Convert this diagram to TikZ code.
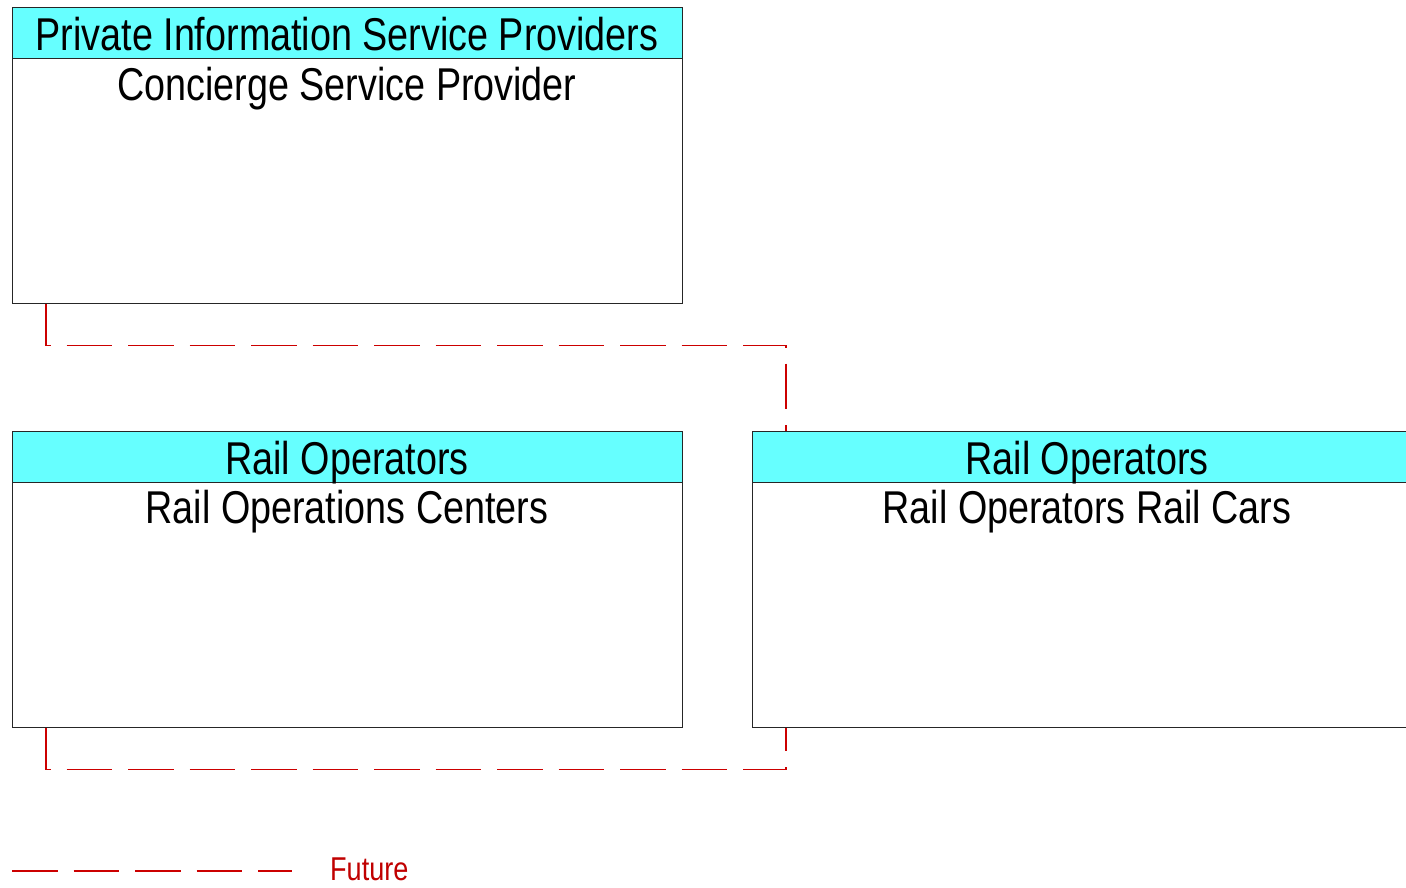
\documentclass[tikz,border=0pt]{standalone}
\usepackage{fontspec}
\setmainfont{Liberation Sans}[FakeStretch=0.82]
\begin{document}
\begin{tikzpicture}[x=1pt,y=-1pt,
  box/.style={draw=black!85,line width=1.2pt,fill=white,minimum width=670pt,minimum height=296pt,anchor=north west,inner sep=0pt},
  hdr/.style={draw=black!85,line width=1.2pt,fill=headcyan,minimum width=670pt,minimum height=51pt,anchor=north west,inner sep=0pt},
  lbl/.style={font=\fontsize{46}{46}\selectfont,anchor=base,inner sep=0pt},
  future/.style={draw=futred,line width=1.3pt,dash pattern=on 45.5pt off 16pt}]
\definecolor{headcyan}{HTML}{66FFFF}
\definecolor{futred}{HTML}{CC0000}
\definecolor{futtext}{HTML}{C00000}
\useasboundingbox (0,0) rectangle (1406,887);
% Concierge Service Provider
\node[box] (csp) at (12,7) {};
\node[hdr] (csph) at (12,7) {};
\node[lbl] (cspa) at (347,50) {Private Information Service Providers};
\node[lbl] (cspb) at (347,100) {Concierge Service Provider};
% Rail Operations Centers
\node[box] (roc) at (12,431) {};
\node[hdr] (roch) at (12,431) {};
\node[lbl] (roca) at (347,474) {Rail Operators};
\node[lbl] (rocb) at (347,523) {Rail Operations Centers};
% Rail Operators Rail Cars
\node[box] (rrc) at (752,431) {};
\node[hdr] (rrch) at (752,431) {};
\node[lbl] (rrca) at (1087,474) {Rail Operators};
\node[lbl] (rrcb) at (1087,523) {Rail Operators Rail Cars};
% connectors
\draw[future] ([xshift=34pt]csp.south west) -- ++(0,41) -| ([xshift=34pt]rrc.north west);
\draw[future] ([xshift=34pt]roc.south west) -- ++(0,41) -| ([xshift=34pt]rrc.south west);
% legend
\coordinate (lgs) at (12,871);
\coordinate (lge) at (292,871);
\draw[future] (lgs) -- (lge);
\node[font=\fontsize{33}{33}\selectfont,text=futtext,anchor=base west,inner sep=0pt] (fut) at (330,880) {Future};
\end{tikzpicture}
\end{document}
